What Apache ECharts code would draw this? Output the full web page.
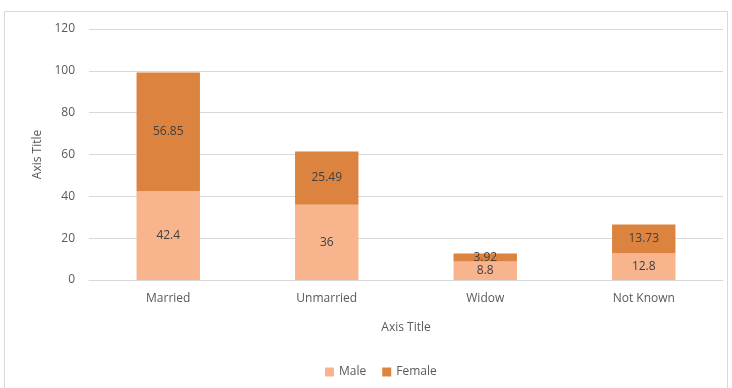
<!DOCTYPE html>
<html><head><meta charset="utf-8">
<script src="https://cdn.jsdelivr.net/npm/echarts@6/dist/echarts.min.js"></script>
<style>html,body{margin:0;padding:0;background:#fff}#c{width:732px;height:388px}</style>
</head><body><div id="c"></div>
<script>
const categories = ['Married', 'Unmarried', 'Widow', 'Not Known'];
const male = [42.4, 36, 8.8, 12.8];
const female = [56.85, 25.49, 3.92, 13.73];
const seriesNames = ['Male', 'Female'];
const font = 'Open Sans, Noto Sans, sans-serif';
const chart = echarts.init(document.getElementById('c'));
const lbl = {show: true, position: 'inside', color: '#404040', fontSize: 12, fontFamily: font};
chart.setOption({
  animation: false,
  graphic: [{type: 'rect', shape: {x: 4.5, y: 11.5, width: 723, height: 400}, style: {fill: 'none', stroke: '#D9D9D9', lineWidth: 1}, silent: true}],
  grid: {left: 89, right: 9, top: 29, bottom: 108},
  legend: {
    data: seriesNames, bottom: 5, left: 320, itemWidth: 9, itemHeight: 9, itemGap: 16, icon: 'rect',
    textStyle: {color: '#595959', fontSize: 12, fontFamily: font}
  },
  xAxis: {
    type: 'category', data: categories,
    name: 'Axis Title', nameLocation: 'middle', nameGap: 42,
    nameTextStyle: {color: '#595959', fontSize: 12, fontFamily: font},
    axisLine: {lineStyle: {color: '#D9D9D9'}}, axisTick: {show: false},
    axisLabel: {color: '#595959', fontSize: 12, fontFamily: font, margin: 13}
  },
  yAxis: {
    type: 'value', min: 0, max: 120, interval: 20,
    name: 'Axis Title', nameLocation: 'middle', nameGap: 44,
    nameTextStyle: {color: '#595959', fontSize: 12, fontFamily: font},
    axisLine: {show: false}, axisTick: {show: false},
    axisLabel: {color: '#595959', fontSize: 12, fontFamily: font, margin: 14},
    splitLine: {lineStyle: {color: '#D9D9D9'}}
  },
  series: [
    {name: seriesNames[0], type: 'bar', stack: 's', data: male, barWidth: '40%', itemStyle: {color: '#F8B48D'}, label: lbl},
    {name: seriesNames[1], type: 'bar', stack: 's', data: female, barWidth: '40%', itemStyle: {color: '#DC843F'}, label: lbl}
  ]
});
</script></body></html>
